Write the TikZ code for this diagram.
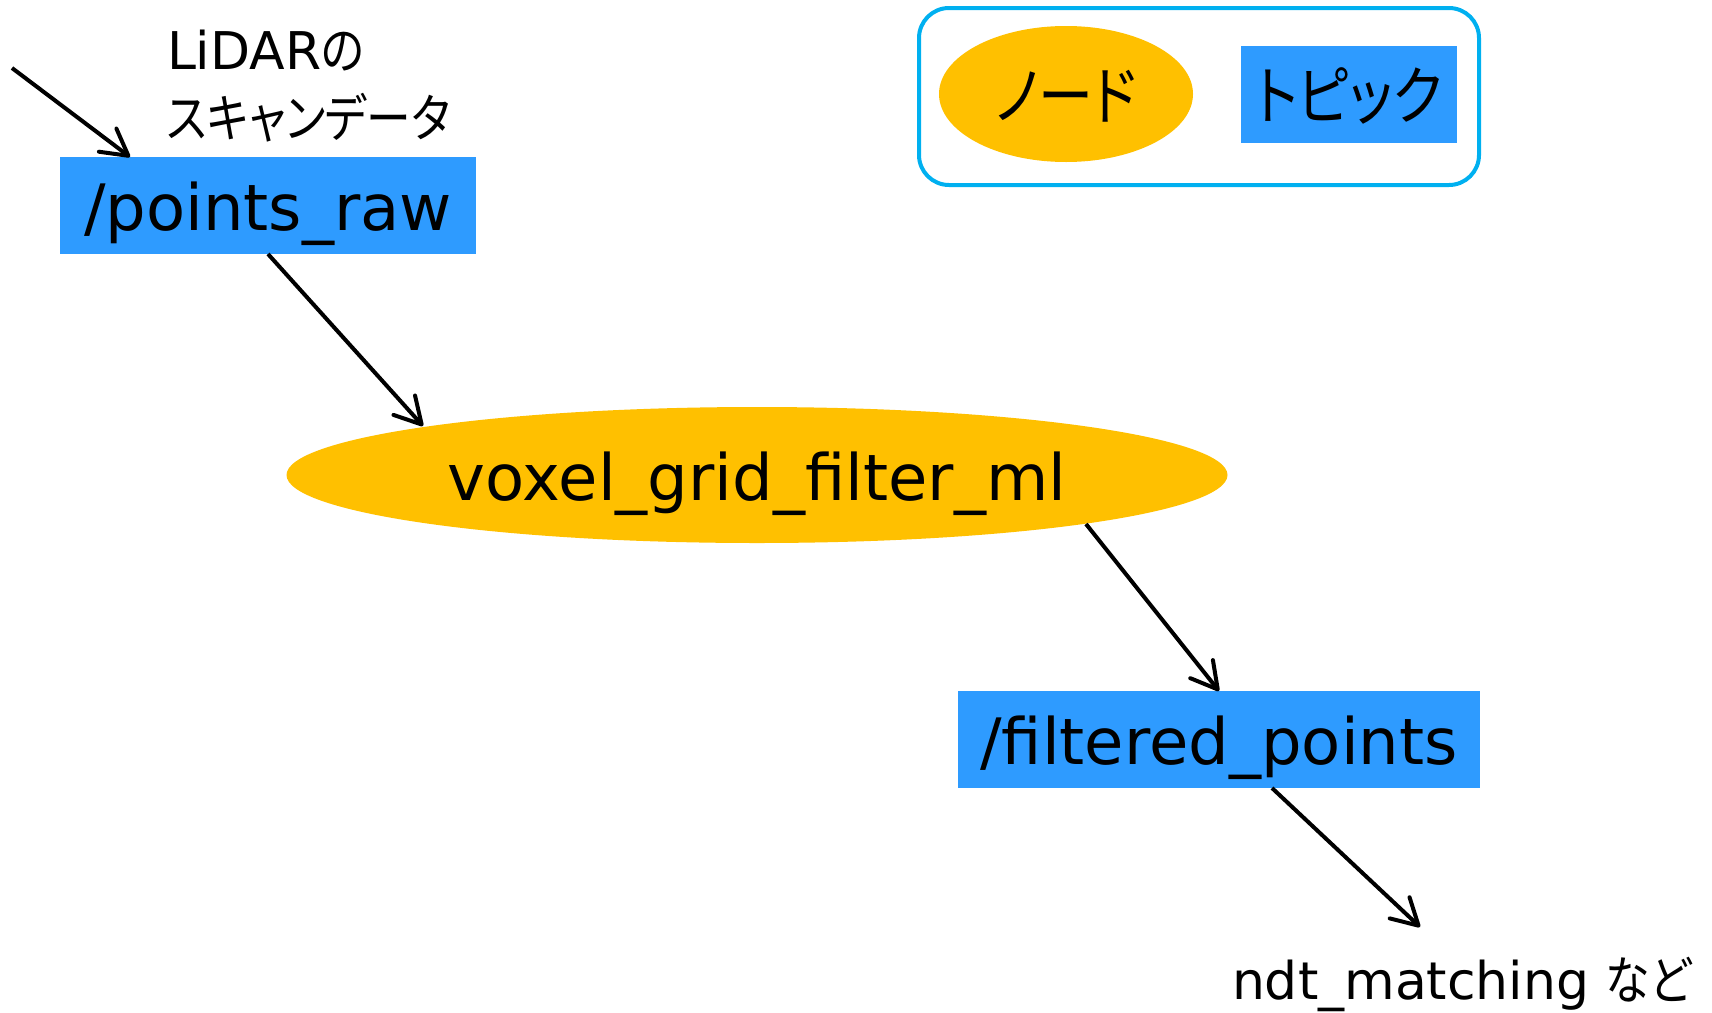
\documentclass[tikz,border=0pt]{standalone}
\usepackage{fontspec}
\setmainfont{DejaVu Sans}
\newfontfamily\jp[RawFeature=+palt, FakeStretch=0.86]{Noto Sans CJK JP}
\usetikzlibrary{shapes.geometric,arrows.meta,calc}
\definecolor{topicblue}{RGB}{46,155,255}
\definecolor{nodeyellow}{RGB}{255,192,0}
\definecolor{legendblue}{RGB}{0,176,240}
\newcommand{\bigtxt}{\fontsize{64pt}{77pt}\selectfont}
\newcommand{\smalltxt}{\fontsize{52pt}{68pt}\selectfont}
\begin{document}
\begin{tikzpicture}[x=1pt,y=-1pt,
  topic/.style={rectangle, fill=topicblue, inner sep=0pt, outer sep=0pt, font=\bigtxt, text height=50pt, text depth=0pt},
  rosnode/.style={ellipse, fill=nodeyellow, inner sep=0pt, outer sep=0pt, font=\bigtxt, text height=50pt, text depth=0pt},
  conn/.style={line width=4pt, -{Straight Barb[length=26pt,width=29pt,round]}},
  lbl/.style={inner sep=0pt, outer sep=0pt, font=\smalltxt},
  legendbox/.style={draw=legendblue, line width=4pt, rounded corners=30pt, inner sep=0pt}]
\useasboundingbox (0,0) rectangle (1712,1012);
% legend
\node[legendbox, minimum width=560pt, minimum height=177pt] (legend) at (1199,96.5) {};
\node[rosnode, minimum width=254pt, minimum height=136pt] (lnode) at (1066,94) {\jp ノード};
\node[topic, minimum width=216pt, minimum height=97pt] (ltopic) at (1349,94.5) {\jp トピック};
% main graph
\node[topic, minimum width=416pt, minimum height=97pt] (pr) at (268,205.5) {/points\_raw};
\node[rosnode, minimum width=941pt, minimum height=136pt] (vg) at (757,475) {voxel\_grid\_filter\_ml};
\node[topic, minimum width=522pt, minimum height=97pt] (fp) at (1219,739.5) {/filtered\_points};
\node[lbl, anchor=north west, align=left] (lidar) at (167,30) {LiDAR{\jp の}\\{\jp スキャンデータ}};
\node[lbl, anchor=base west] (ndt) at (1232,999) {ndt\_matching {\jp など}};
\coordinate (src) at (12,68);
\coordinate (dst) at (1420,927);
\draw[conn] (src) -- ($(pr.north west)+(70,0)$);
\draw[conn] (pr.south) -- ($(vg.center)+(-334,-49)$);
\draw[conn] ($(vg.center)+(329,49)$) -- (fp.north);
\draw[conn] ($(fp.south)+(53,0)$) -- (dst);
\end{tikzpicture}
\end{document}
